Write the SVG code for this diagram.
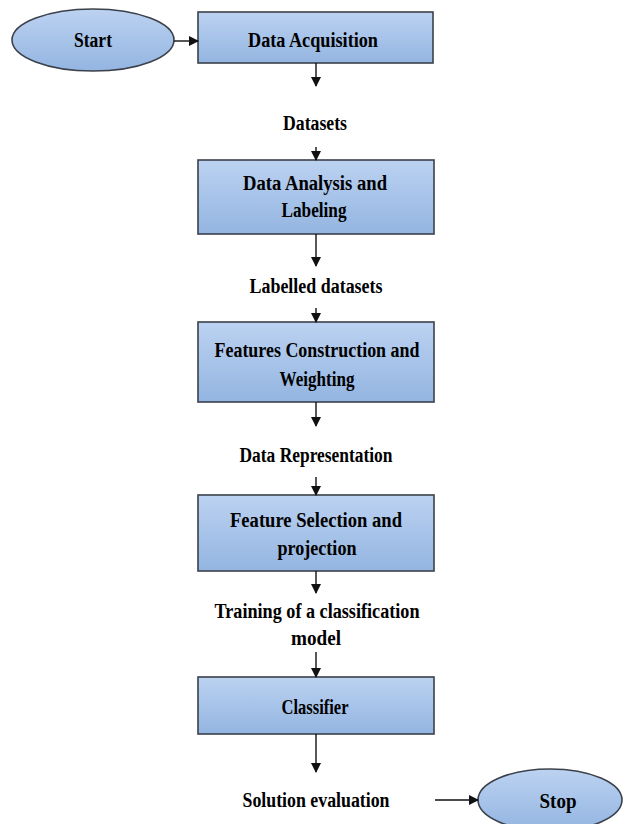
<svg xmlns="http://www.w3.org/2000/svg" width="629" height="824" viewBox="0 0 629 824">
<defs>
<linearGradient id="g" x1="0" y1="0" x2="0" y2="1"><stop offset="0" stop-color="#bcd2f1"/><stop offset="1" stop-color="#93b5e1"/></linearGradient>
<marker id="a" markerWidth="10" markerHeight="10" refX="9" refY="5" orient="auto" markerUnits="userSpaceOnUse"><path d="M0,0 L10,5 L0,10 z" fill="#111"/></marker>
<style>
.n{fill:url(#g);stroke:#3b404a;stroke-width:1.6}
.t{font-family:"Liberation Serif","Times New Roman",serif;font-weight:bold;font-size:20px;fill:#000;text-anchor:middle}
.c{stroke:#111;stroke-width:1.4;fill:none;marker-end:url(#a)}
</style>
</defs>
<rect width="629" height="824" fill="#fff"/>
<g id="start"><ellipse class="n" cx="93" cy="40" rx="81" ry="31"/><text class="t" x="93" y="47" textLength="38" lengthAdjust="spacingAndGlyphs">Start</text></g>
<g id="acq"><rect class="n" x="198" y="12" width="235" height="51"/><text class="t" x="313" y="47" textLength="130" lengthAdjust="spacingAndGlyphs">Data Acquisition</text></g>
<g id="datasets"><text class="t" x="315" y="130" textLength="64" lengthAdjust="spacingAndGlyphs">Datasets</text></g>
<g id="analysis"><rect class="n" x="198" y="160" width="236" height="74"/><text class="t" x="315" y="190" textLength="144" lengthAdjust="spacingAndGlyphs">Data Analysis  and</text><text class="t" x="314" y="217" textLength="65" lengthAdjust="spacingAndGlyphs">Labeling</text></g>
<g id="labelled"><text class="t" x="316" y="293" textLength="133" lengthAdjust="spacingAndGlyphs">Labelled  datasets</text></g>
<g id="features"><rect class="n" x="198" y="322" width="236" height="80"/><text class="t" x="317" y="357" textLength="205" lengthAdjust="spacingAndGlyphs">Features Construction  and</text><text class="t" x="317" y="386" textLength="75" lengthAdjust="spacingAndGlyphs">Weighting</text></g>
<g id="repr"><text class="t" x="316" y="462" textLength="153" lengthAdjust="spacingAndGlyphs">Data Representation</text></g>
<g id="selection"><rect class="n" x="198" y="495" width="236" height="76"/><text class="t" x="316" y="527" textLength="172" lengthAdjust="spacingAndGlyphs">Feature Selection  and</text><text class="t" x="317" y="555" textLength="79" lengthAdjust="spacingAndGlyphs">projection</text></g>
<g id="training"><text class="t" x="317" y="618" textLength="205" lengthAdjust="spacingAndGlyphs">Training  of a classification</text><text class="t" x="316" y="645" textLength="50" lengthAdjust="spacingAndGlyphs">model</text></g>
<g id="classifier"><rect class="n" x="198" y="677" width="236" height="57"/><text class="t" x="315" y="714" textLength="67" lengthAdjust="spacingAndGlyphs">Classifier</text></g>
<g id="solution"><text class="t" x="316" y="807" textLength="147" lengthAdjust="spacingAndGlyphs">Solution  evaluation</text></g>
<g id="stop"><ellipse class="n" cx="550" cy="800" rx="72" ry="31"/><text class="t" x="558" y="808" textLength="37" lengthAdjust="spacingAndGlyphs">Stop</text></g>
<g id="connectors">
<line class="c" x1="174" y1="41" x2="198" y2="41"/>
<line class="c" x1="316" y1="63" x2="316" y2="86"/>
<line class="c" x1="316" y1="147" x2="316" y2="160"/>
<line class="c" x1="316" y1="234" x2="316" y2="266"/>
<line class="c" x1="316" y1="308" x2="316" y2="322"/>
<line class="c" x1="316" y1="402" x2="316" y2="426"/>
<line class="c" x1="316" y1="477" x2="316" y2="495"/>
<line class="c" x1="316" y1="571" x2="316" y2="593"/>
<line class="c" x1="316" y1="652" x2="316" y2="677"/>
<line class="c" x1="316" y1="734" x2="316" y2="772"/>
<line class="c" x1="435" y1="800" x2="478" y2="800"/>
</g>
</svg>
